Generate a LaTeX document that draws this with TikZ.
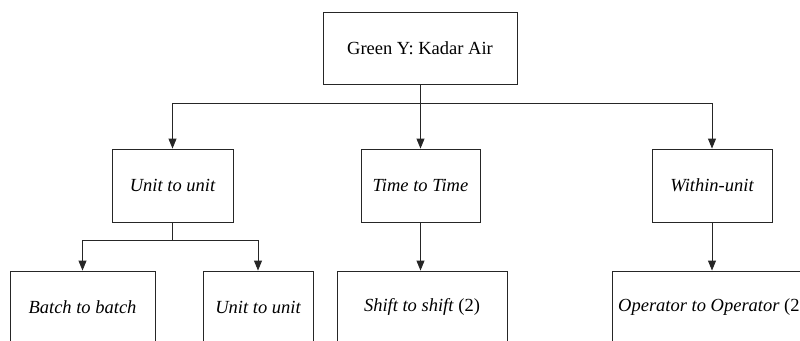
\documentclass[tikz,border=0pt]{standalone}
\usepackage{fontspec}
\setmainfont{Liberation Serif}
\usetikzlibrary{arrows.meta}
\begin{document}
\begin{tikzpicture}[x=1pt,y=-1pt,
  box/.style={draw=black!85, line width=0.9pt, minimum height=72pt, inner sep=0pt, font=\fontsize{18.5}{22}\selectfont},
  conn/.style={draw=black!85, line width=0.9pt},
  arr/.style={conn, -{Triangle[length=10pt,width=8pt]}}]
\useasboundingbox (0,0) rectangle (800,340);
\clip (0,0) rectangle (800,340);
\node[box, minimum width=194pt] (top) at (420,48) {Green Y: Kadar Air};
\node[box, minimum width=121pt, minimum height=73pt] (u) at (172.5,185.5) {\itshape Unit to unit};
\node[box, minimum width=119pt, minimum height=73pt] (t) at (420.5,185.5) {\itshape Time to Time};
\node[box, minimum width=120pt, minimum height=73pt] (w) at (712,185.5) {\itshape Within-unit};
\node[box, minimum width=145pt] (bb) at (82.5,307) {\itshape Batch to batch};
\node[box, minimum width=110pt] (uu) at (258,307) {\itshape Unit to unit};
\node[box, minimum width=170pt] (ss) at (422,307) {\textit{Shift to shift} (2)};
\node[box, minimum width=200pt] (op) at (712,307) {\textit{Operator to Operator} (2)};
\coordinate (bus) at (420,103);
\coordinate (bus2) at (172.5,240);
\draw[conn] (top.south) -- (bus);
\draw[conn] (bus -| u.north) -- (bus -| w.north);
\draw[arr] (bus -| u.north) -- (u.north);
\draw[arr] (bus -| t.north) -- (t.north);
\draw[arr] (bus -| w.north) -- (w.north);
\draw[conn] (u.south) -- (bus2);
\draw[conn] (bus2 -| bb.north) -- (bus2 -| uu.north);
\draw[arr] (bus2 -| bb.north) -- (bb.north);
\draw[arr] (bus2 -| uu.north) -- (uu.north);
\draw[arr] (t.south) -- (t.south |- ss.north);
\draw[arr] (w.south) -- (op.north);
\end{tikzpicture}
\end{document}
